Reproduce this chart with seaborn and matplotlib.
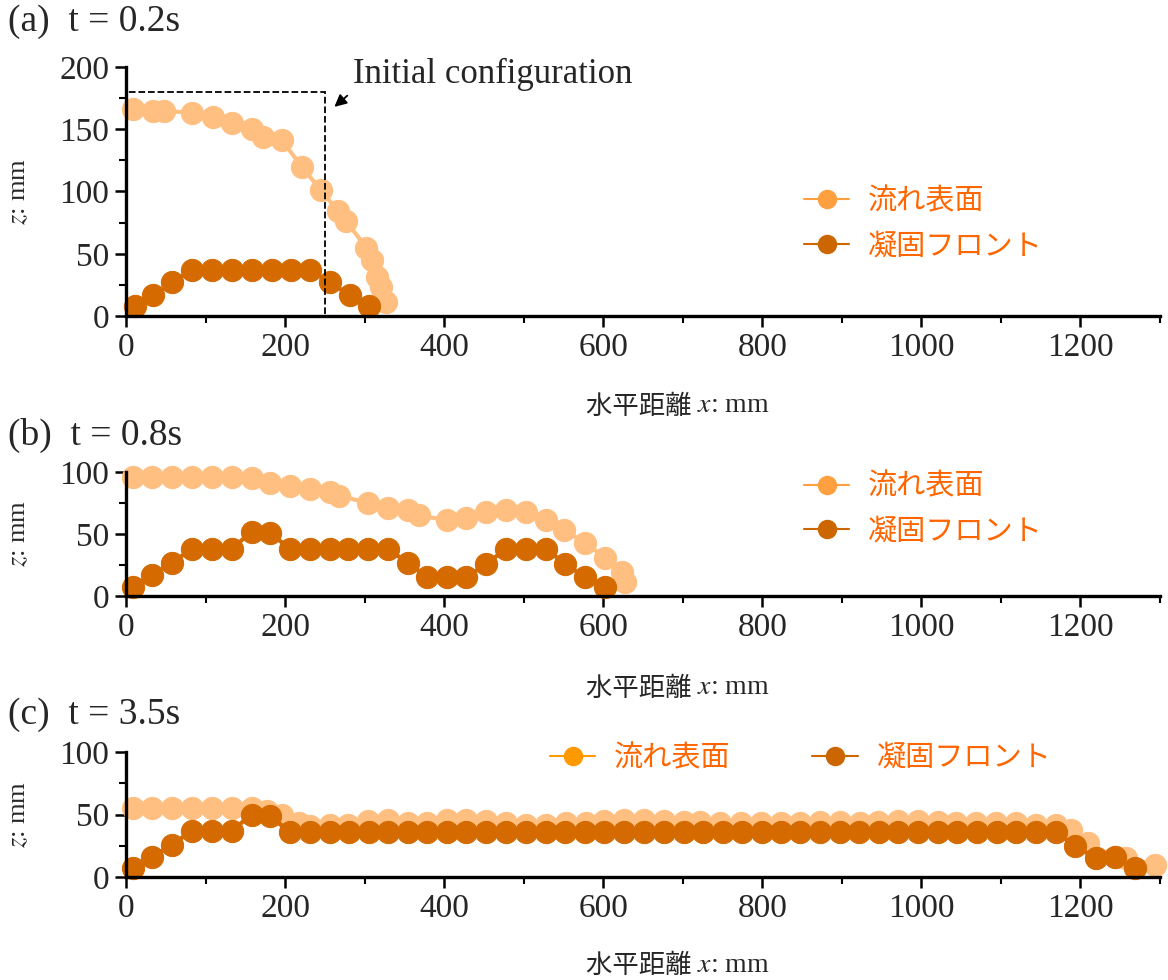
"""
Flow surface and solidification front at three times, stacked in three panels.
"""

import matplotlib
matplotlib.use("Agg")
import matplotlib.pyplot as plt
import matplotlib.patches as mpatches
from matplotlib.lines import Line2D
from matplotlib.ticker import MultipleLocator
import seaborn as sns

# panel (a) t = 0.2s
a_surf_x = [9, 34, 48, 83, 109, 133, 158, 172, 196, 221, 245, 267, 277, 302, 309, 316, 321, 327]
a_surf_z = [166, 165, 165, 163, 160, 155, 150, 144, 141, 120, 101, 84, 76, 55, 45, 31, 23, 11]
a_front_x = [11, 34, 58, 83, 108, 133, 158, 183, 208, 231, 256, 281, 306]
a_front_z = [8, 17, 27, 37, 37, 37, 37, 37, 37, 37, 27, 17, 8]

# panel (b) t = 0.8s
b_surf_x = [9, 33, 58, 83, 108, 133, 158, 181, 206, 231, 256, 268, 304, 329, 354, 369, 404,
            428, 453, 478, 503, 528, 551, 577, 602, 624, 627]
b_surf_z = [96, 96, 96, 96, 96, 96, 95, 91, 89, 86, 84, 81, 75, 71, 69, 65, 61,
            63, 68, 69, 68, 61, 53, 43, 31, 19, 11]
b_front_x = [9, 33, 58, 83, 108, 133, 158, 181, 206, 231, 256, 279, 304, 329, 354, 379, 404,
             428, 453, 478, 503, 528, 552, 577, 602]
b_front_z = [7, 17, 27, 38, 38, 38, 52, 51, 38, 38, 38, 38, 38, 38, 27, 15, 15,
             15, 26, 38, 38, 38, 26, 15, 7]

# panel (c) t = 3.5s
c_surf_x = [9, 33, 58, 83, 108, 133, 158, 177, 196, 218, 231, 256, 279, 304, 329,
            354, 379, 403, 428, 453, 478, 503, 528, 553, 578, 601, 626, 651, 676, 701,
            722, 747, 773, 798, 823, 848, 873, 898, 923, 946, 971, 996, 1021, 1044,
            1069, 1094, 1119, 1144, 1169, 1188, 1209, 1245, 1257, 1294]
c_surf_z = [55, 55, 55, 55, 55, 55, 55, 53, 50, 43, 41, 42, 42, 45, 46,
            43, 43, 46, 46, 45, 43, 42, 42, 43, 43.5, 45, 46, 46, 45, 44,
            44, 43.5, 43.5, 43, 43.5, 43.5, 44, 44, 43.5, 44, 45, 45, 44, 43.5,
            43.5, 43.5, 43, 42, 42, 38, 27, 16, 15, 10]
c_front_x = [9, 33, 58, 83, 108, 133, 158, 181,
             206, 231, 256, 280, 305, 330, 354, 379, 404, 428, 453, 478, 503, 528, 552,
             577, 601, 626, 651, 676, 701, 725, 750, 774, 799, 823, 848, 873, 898, 922,
             947, 971, 996, 1021, 1045, 1070, 1095, 1119, 1144, 1169,
             1193, 1220, 1243, 1268]
c_front_z = [7, 16, 26, 37, 37, 37, 50, 49,
             36, 36, 36, 36, 36, 36, 36, 36, 36, 36, 36, 36, 36, 36, 36,
             36, 36, 36, 36, 36, 36, 36, 36, 36, 36, 36, 36, 36, 36, 36,
             36, 36, 36, 36, 36, 36, 36, 36, 36, 36,
             25, 15, 16, 7]

titles = ["(a)  t = 0.2s", "(b)  t = 0.8s", "(c)  t = 3.5s"]
labels = ["流れ表面", "凝固フロント"]
init_w, init_h = 250, 180

SURF = "#FFBF80"
FRONT = "#D46A00"
TXT = "#FF6600"
SERIF = ["Liberation Serif", "DejaVu Serif"]
CJK = ["Noto Sans CJK JP", "DejaVu Sans"]

sns.set_style("ticks")
plt.rcParams["font.family"] = SERIF
plt.rcParams["mathtext.fontset"] = "stix"

W, H = 1168, 980
fig = plt.figure(figsize=(W / 100, H / 100), dpi=100)

# axes boxes in pixels: top, bottom
boxes = [(67, 316), (472, 596), (752, 877)]
title_y = [22, 435, 715]
xlab_y = [406, 688, 965]
ymax = [200, 100, 100]

data = [
    (a_surf_x, a_surf_z, a_front_x, a_front_z),
    (b_surf_x, b_surf_z, b_front_x, b_front_z),
    (c_surf_x, c_surf_z, c_front_x, c_front_z),
]

left, right = 126, 1160
for i, (top, bot) in enumerate(boxes):
    ax = fig.add_axes([left / W, 1 - bot / H, (right - left) / W, (bot - top) / H])
    sx, sz, fx, fz = data[i]
    sns.lineplot(x=sx, y=sz, sort=False, estimator=None, color=SURF, marker="o",
                 markersize=16, linewidth=3, markeredgecolor=SURF, ax=ax, legend=False,
                 clip_on=False)
    sns.lineplot(x=fx, y=fz, sort=False, estimator=None, color=FRONT, marker="o",
                 markersize=16, linewidth=3, markeredgecolor=FRONT, ax=ax, legend=False,
                 clip_on=False)

    ax.set_xlim(0, 1300)
    ax.set_ylim(0, ymax[i])
    ax.xaxis.set_major_locator(MultipleLocator(200))
    ax.xaxis.set_minor_locator(MultipleLocator(100))
    ax.yaxis.set_major_locator(MultipleLocator(50))
    ax.yaxis.set_minor_locator(MultipleLocator(25))
    sns.despine(ax=ax)
    for s in ["left", "bottom"]:
        ax.spines[s].set_linewidth(2.4)
        ax.spines[s].set_color("black")
    ax.tick_params(which="major", length=8, width=1.8, labelsize=24, color="black", pad=4)
    ax.tick_params(which="minor", length=5, width=1.5, color="black")
    ax.set_xlabel("")
    ax.set_ylabel("$z$: mm", fontsize=19, labelpad=0)
    ax.yaxis.set_label_coords(-(left - 30) / (right - left), 0.5)

    # x label: japanese part + serif part
    yf = -(xlab_y[i] - bot) / (bot - top)
    xf = (697 - left) / (right - left)
    ax.text(xf, yf, "水平距離 ", ha="right", va="center", fontsize=19, family=CJK,
            transform=ax.transAxes)
    ax.text(xf, yf, "$x$: mm", ha="left", va="center", fontsize=20,
            transform=ax.transAxes)

    fig.text(8 / W, 1 - title_y[i] / H, titles[i], ha="left", va="center", fontsize=27)

    if i == 0:
        ax.add_patch(mpatches.Rectangle((0, 0), init_w, init_h, fill=False, ls="--",
                                        lw=1.3, ec="black", zorder=5))
        ax.annotate("Initial configuration", xy=(262, 168), xytext=(285, 194),
                    ha="left", va="center", fontsize=25,
                    arrowprops=dict(arrowstyle="-|>", color="black", lw=1.3,
                                    mutation_scale=18, relpos=(0, 0), shrinkA=2, shrinkB=0))

    surf_col = "#FF9900" if i == 2 else "#FFA040"
    handles = [
        Line2D([], [], color=surf_col, marker="o", markersize=13, lw=1.5),
        Line2D([], [], color="#CC6600", marker="o", markersize=13, lw=1.5),
    ]
    if i < 2:
        cy = 224 if i == 0 else 509
        leg = fig.legend(handles, labels, loc="center left",
                         bbox_to_anchor=(804 / W, 1 - cy / H), frameon=False,
                         prop={"family": CJK, "size": 21}, handlelength=1.55,
                         handletextpad=0.65, labelspacing=0.5, borderpad=0,
                         borderaxespad=0)
    else:
        leg = fig.legend(handles, labels, loc="center left",
                         bbox_to_anchor=(550 / W, 1 - 758 / H), frameon=False, ncol=2,
                         prop={"family": CJK, "size": 21}, handlelength=1.55,
                         handletextpad=0.65, columnspacing=2.8, borderpad=0,
                         borderaxespad=0)
    for t in leg.get_texts():
        t.set_color(TXT)

fig.savefig("out.png", dpi=100)
plt.close(fig)
